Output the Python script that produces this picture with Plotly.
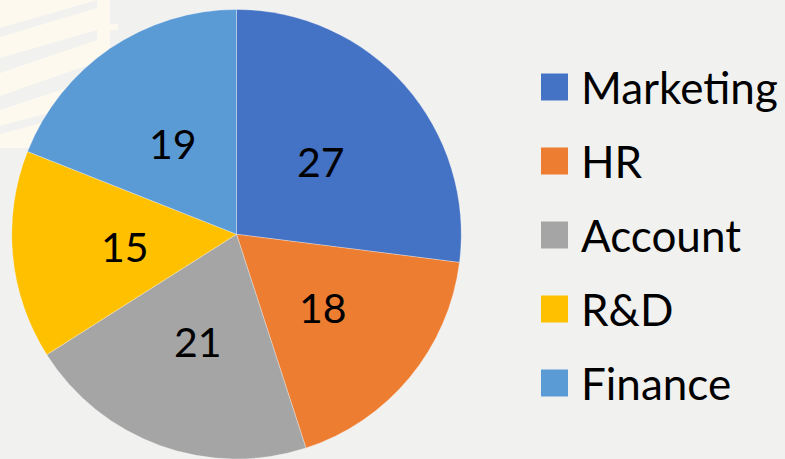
import math
import plotly.graph_objects as go

labels = ["Marketing", "HR", "Account", "R&D", "Finance"]
values = [27, 18, 21, 15, 19]
colors = ["#4472C4", "#ED7D31", "#A5A5A5", "#FFC000", "#5B9BD5"]

W, H = 785, 459
BG = "#F1F1F0"
CREAM = "#FDF9EE"
FONT = "Lato"

def px(x):
    return x / W

def py(y):
    return 1 - y / H

# pie geometry (pixels)
dom_x = [10, 463]
dom_top = 9.5
R = min(dom_x[1] - dom_x[0], H - dom_top) / 2
CX = (dom_x[0] + dom_x[1]) / 2
CY = dom_top + R

fig = go.Figure()
fig.add_trace(go.Pie(
    labels=labels, values=values,
    marker=dict(colors=colors, line=dict(color="rgba(255,255,255,0.6)", width=0.5)),
    sort=False, direction="clockwise", rotation=0,
    textinfo="none",
    showlegend=False, hoverinfo="label+value",
    domain=dict(x=[px(dom_x[0]), px(dom_x[1])], y=[0, py(dom_top)]),
))

shapes = []
# faint watermark, top-left
shapes.append(dict(type="rect", xref="paper", yref="paper", layer="below",
                   x0=0, x1=px(110), y0=py(148), y1=1, fillcolor=CREAM, line_width=0))
def poly(pts):
    d = "M " + " L ".join(f"{px(x)},{py(y)}" for x, y in pts) + " Z"
    return dict(type="path", path=d, xref="paper", yref="paper", layer="below",
                fillcolor=BG, line_width=0)
shapes.append(poly([(0, 28), (97, 0), (97, 8), (0, 37)]))
shapes.append(poly([(0, 58), (97, 30), (97, 40), (0, 73)]))
shapes.append(poly([(0, 96), (97, 62), (97, 78), (0, 110)]))
shapes.append(poly([(0, 126), (60, 110), (60, 118), (0, 134)]))
shapes.append(dict(type="rect", xref="paper", yref="paper", layer="below",
                   x0=px(97), x1=px(110), y0=py(45), y1=1, fillcolor=CREAM, line_width=0))
shapes.append(dict(type="rect", xref="paper", yref="paper", layer="below",
                   x0=px(97), x1=px(118), y0=py(30), y1=py(24), fillcolor=CREAM, line_width=0))

annotations = []
# data labels at half radius, on each slice's mid angle
total = sum(values)
cum = 0
for v in values:
    mid = (cum + v / 2) / total * 2 * math.pi
    cum += v
    lx = CX + 0.5 * R * math.sin(mid)
    ly = CY - 0.5 * R * math.cos(mid) + 2
    annotations.append(dict(xref="paper", yref="paper", x=px(lx), y=py(ly),
                            xanchor="center", yanchor="middle", text=str(v), showarrow=False,
                            font=dict(family=FONT, size=41, color="#000000")))

# legend built from labels/colors
leg_top, leg_step, sq = 87, 74, 27
for i, (lab, col) in enumerate(zip(labels, colors)):
    cy = leg_top + i * leg_step
    shapes.append(dict(type="rect", xref="paper", yref="paper",
                       x0=px(541), x1=px(541 + sq), y0=py(cy + sq / 2), y1=py(cy - sq / 2),
                       fillcolor=col, line_width=0))
    annotations.append(dict(xref="paper", yref="paper", x=px(579), y=py(cy),
                            xanchor="left", yanchor="middle", text=lab, showarrow=False,
                            font=dict(family=FONT, size=44, color="#000000")))

fig.update_layout(
    width=W, height=H, margin=dict(l=0, r=0, t=0, b=0),
    paper_bgcolor=BG, plot_bgcolor=BG,
    shapes=shapes, annotations=annotations,
)
fig.write_html("out.html")
